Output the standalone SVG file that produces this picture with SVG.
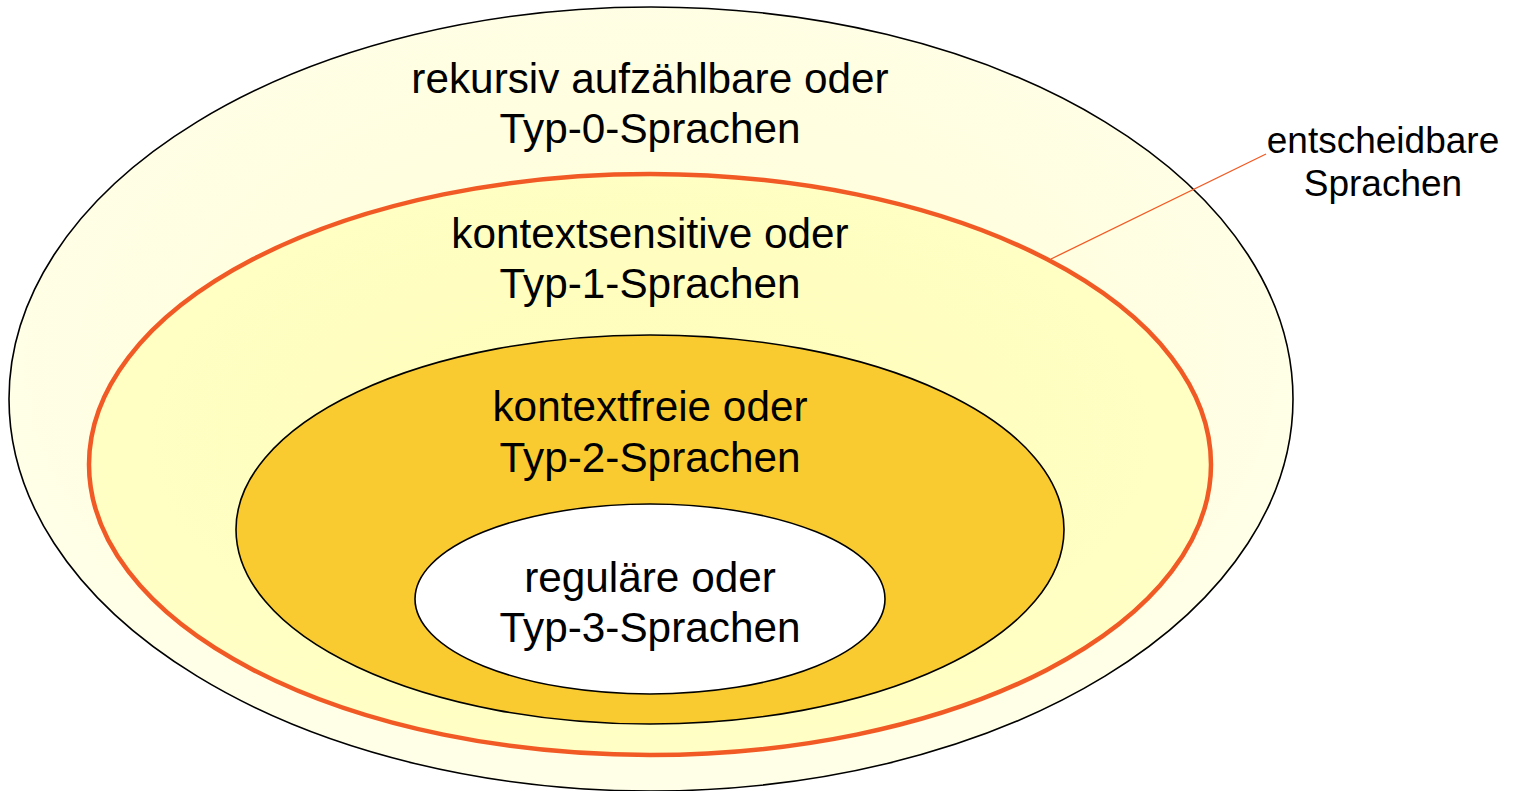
<svg xmlns="http://www.w3.org/2000/svg" width="1517" height="791" viewBox="0 0 1517 791">
<style>
text{font-family:"Liberation Sans",Arial,Helvetica,sans-serif;fill:#000;text-anchor:middle}
.big{font-size:42.3px}
.small{font-size:37px}
.thin{stroke:#000;stroke-width:1.6}
</style>
<defs>
<radialGradient id="g0" cx="0.5" cy="0.45" r="0.6">
<stop offset="0" stop-color="#FFFDD4"/>
<stop offset="1" stop-color="#FFFFEA"/>
</radialGradient>
<radialGradient id="g1" cx="0.5" cy="0.45" r="0.6">
<stop offset="0" stop-color="#FFFDBA"/>
<stop offset="1" stop-color="#FFFFC6"/>
</radialGradient>
</defs>
<rect width="1517" height="791" fill="#fff"/>
<g id="typ0">
<ellipse cx="651" cy="399" rx="642" ry="392" fill="url(#g0)" class="thin"/>
<text class="big" x="650" y="93">rekursiv aufzählbare oder</text>
<text class="big" x="650" y="143">Typ-0-Sprachen</text>
</g>
<g id="typ1">
<ellipse cx="650" cy="464.5" rx="561" ry="290.5" fill="url(#g1)" stroke="#F15A24" stroke-width="4.5"/>
<text class="big" x="650" y="248">kontextsensitive oder</text>
<text class="big" x="650" y="298">Typ-1-Sprachen</text>
</g>
<g id="typ2">
<ellipse cx="650" cy="529.5" rx="414" ry="194.5" fill="#F9CB31" class="thin"/>
<text class="big" x="650" y="421">kontextfreie oder</text>
<text class="big" x="650" y="472">Typ-2-Sprachen</text>
</g>
<g id="typ3">
<ellipse cx="650" cy="599" rx="235" ry="95" fill="#fff" class="thin"/>
<text class="big" x="650" y="592">reguläre oder</text>
<text class="big" x="650" y="642">Typ-3-Sprachen</text>
</g>
<g id="connectors">
<line x1="1051" y1="259" x2="1266" y2="154" stroke="#F15A24" stroke-width="1.3"/>
</g>
<g id="label-entscheidbar">
<text class="small" x="1383" y="153">entscheidbare</text>
<text class="small" x="1383" y="196">Sprachen</text>
</g>
</svg>
